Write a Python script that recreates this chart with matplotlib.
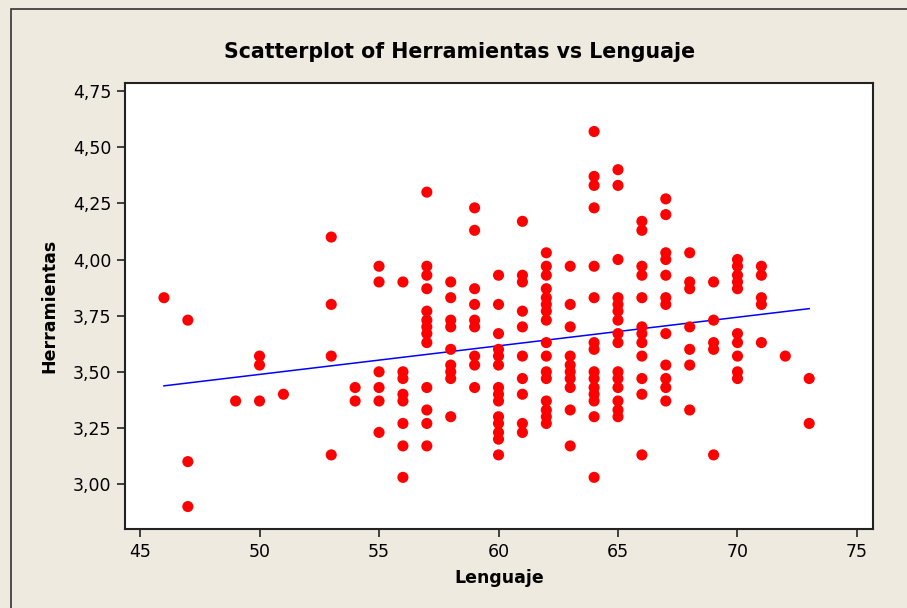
import numpy as np
import matplotlib
matplotlib.use('Agg')
import matplotlib.pyplot as plt
from matplotlib.patches import Rectangle
from matplotlib.ticker import FuncFormatter

# Lenguaje score -> Herramientas values
lenguaje = [46, 47, 49, 50, 51, 53, 54, 55, 56, 57, 58, 59, 60, 61, 62, 63, 64, 65, 66, 67, 68, 69, 70, 71, 72, 73]
herramientas = [
    [3.83],
    [3.73, 3.10, 2.90],
    [3.37],
    [3.57, 3.53, 3.37],
    [3.40],
    [4.10, 3.80, 3.57, 3.13],
    [3.43, 3.37],
    [3.97, 3.90, 3.50, 3.43, 3.37, 3.23],
    [3.90, 3.50, 3.47, 3.40, 3.37, 3.27, 3.17, 3.03],
    [4.30, 3.97, 3.93, 3.87, 3.77, 3.73, 3.70, 3.67, 3.63, 3.43, 3.33, 3.27, 3.17],
    [3.90, 3.83, 3.73, 3.70, 3.60, 3.53, 3.50, 3.47, 3.30],
    [4.23, 4.13, 3.87, 3.80, 3.73, 3.70, 3.57, 3.53, 3.43],
    [3.93, 3.80, 3.67, 3.60, 3.57, 3.53, 3.43, 3.40, 3.37, 3.30, 3.27, 3.23, 3.20, 3.13],
    [4.17, 3.93, 3.90, 3.77, 3.70, 3.57, 3.47, 3.40, 3.27, 3.23],
    [4.03, 3.97, 3.93, 3.87, 3.83, 3.80, 3.77, 3.73, 3.63, 3.57, 3.50, 3.47, 3.37, 3.33, 3.30, 3.27],
    [3.97, 3.80, 3.70, 3.57, 3.53, 3.50, 3.47, 3.43, 3.33, 3.17],
    [4.57, 4.37, 4.33, 4.23, 3.97, 3.83, 3.63, 3.60, 3.50, 3.47, 3.43, 3.40, 3.37, 3.30, 3.03],
    [4.40, 4.33, 4.00, 3.83, 3.80, 3.77, 3.73, 3.67, 3.63, 3.50, 3.47, 3.43, 3.37, 3.33, 3.30],
    [4.17, 4.13, 3.97, 3.93, 3.83, 3.70, 3.67, 3.63, 3.57, 3.47, 3.40, 3.13],
    [4.27, 4.20, 4.03, 4.00, 3.93, 3.83, 3.80, 3.67, 3.53, 3.47, 3.43, 3.37],
    [4.03, 3.90, 3.87, 3.70, 3.60, 3.53, 3.33],
    [3.90, 3.73, 3.63, 3.60, 3.13],
    [4.00, 3.97, 3.93, 3.90, 3.87, 3.67, 3.63, 3.57, 3.50, 3.47],
    [3.97, 3.93, 3.83, 3.80, 3.63],
    [3.57],
    [3.47, 3.27],
]
x_ticks = [45, 50, 55, 60, 65, 70, 75]
y_ticks = [3.00, 3.25, 3.50, 3.75, 4.00, 4.25, 4.50, 4.75]

x = np.concatenate([[l] * len(h) for l, h in zip(lenguaje, herramientas)])
y = np.concatenate(herramientas)

bg = '#eeeae0'
fig = plt.figure(figsize=(9.07, 6.08), dpi=100, facecolor=bg)
# outer frame (only top/left edges visible in the original)
fig.patches.append(Rectangle((11 / 907, -0.1), 1.2, 1 - 9 / 608 + 0.1, transform=fig.transFigure,
                             fill=False, edgecolor='#333333', linewidth=1.2))

ax = fig.add_axes([125 / 907, 1 - 529 / 608, 748 / 907, 446 / 608])
ax.set_facecolor('white')

ax.scatter(x, y, s=64, c='#ff0000', edgecolors='none', zorder=3)

# least squares fit
b, a = np.polyfit(x, y, 1)
xf = np.array([min(lenguaje), max(lenguaje)])
ax.plot(xf, a + b * xf, color='#0000ff', linewidth=1.1, zorder=2)

ax.set_xlim(44.37, 75.67)
ax.set_ylim(2.80, 4.786)
ax.set_xticks(x_ticks)
ax.set_yticks(y_ticks)
ax.yaxis.set_major_formatter(FuncFormatter(lambda v, p: ('%.2f' % v).replace('.', ',')))
ax.tick_params(direction='out', length=6, width=1.2, color='#222222', labelsize=12.5, pad=4)

for s in ax.spines.values():
    s.set_linewidth(1.5)
    s.set_color('#222222')

fig.text(460 / 907, 1 - 52 / 608, 'Scatterplot of Herramientas vs Lenguaje', fontsize=14.8,
         fontweight='bold', ha='center', va='center')
ax.set_xlabel('Lenguaje', fontsize=12.5, fontweight='bold', labelpad=6)
ax.set_ylabel('Herramientas', fontsize=12.5, fontweight='bold', labelpad=10)

fig.savefig('out.png', dpi=100, facecolor=bg)
